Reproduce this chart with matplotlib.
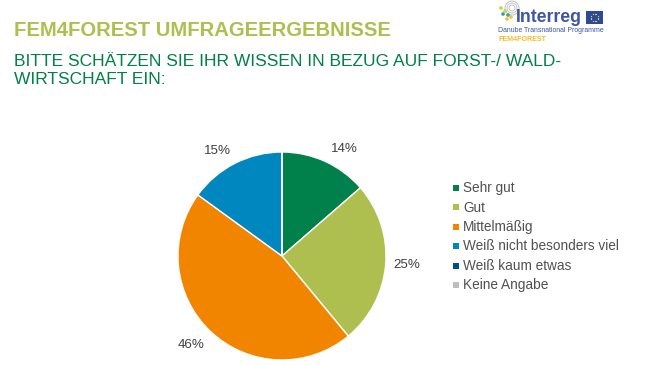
import numpy as np
import matplotlib
matplotlib.use('Agg')
import matplotlib.pyplot as plt
from matplotlib.patches import Rectangle, Circle

plt.rcParams['font.family'] = ['Liberation Sans', 'DejaVu Sans']

W = 656
H = 365

categories = ['Sehr gut', 'Gut', 'Mittelmäßig', 'Weiß nicht besonders viel',
              'Weiß kaum etwas', 'Keine Angabe']
values = [13.6, 25.4, 46, 15, 0, 0]
colors = ['#00804A', '#AEBF4F', '#F28500', '#0087C0', '#004F7C', '#BDBDBD']

title = 'FEM4FOREST UMFRAGEERGEBNISSE'
subtitle = 'BITTE SCHÄTZEN SIE IHR WISSEN IN BEZUG AUF FORST-/ WALD-\nWIRTSCHAFT EIN:'

fig = plt.figure(figsize=(W / 100, H / 100), dpi=100, facecolor='white')

# everything that is not the pie is placed in pixels
bg = fig.add_axes([0, 0, 1, 1])
bg.set_xlim(0, W)
bg.set_ylim(H, 0)
bg.axis('off')

bg.text(14, 30, title, fontsize=14.6, fontweight='bold', color='#AEBF4F', va='center')
bg.text(14, 70.5, subtitle, fontsize=12.5, color='#007F48', va='center', linespacing=1.27)

# logo
for r in [3, 5, 7]:
    bg.add_patch(Circle((512, 8), r, fill=False, edgecolor='#B8B8B8', linewidth=0.6))
bg.scatter([501, 505, 503, 508, 511, 507], [8, 11, 14, 15, 17, 19], s=7,
           color=['#C9D44A', '#C9D44A', '#3FA0A0', '#3FA0A0', '#F2C23A', '#F2C23A'],
           linewidths=0, zorder=3)
bg.text(516, 18, 'Interreg', fontsize=12.7, fontweight='bold', color='#3D55A5', va='center')
bg.add_patch(Rectangle((586, 11), 17, 13, color='#2A4B9B', linewidth=0))
star_ang = np.linspace(0, 2 * np.pi, 12, endpoint=False)
bg.scatter(594.5 + 3.6 * np.cos(star_ang), 17.5 + 3.6 * np.sin(star_ang), s=0.8,
           color='#F7D117', linewidths=0, zorder=3)
bg.text(498.5, 30.5, 'Danube Transnational Programme', fontsize=4.96, color='#3D55A5', va='center')
bg.text(498.5, 39.5, 'FEM4FOREST', fontsize=5.1, fontweight='bold', color='#F7B92B', va='center')

# pie
ax = fig.add_axes([178 / W, (H - 360) / H, 208 / W, 208 / H])
wedges, _ = ax.pie(values, colors=colors, startangle=90, counterclock=False, radius=1,
                   wedgeprops={'edgecolor': 'white', 'linewidth': 1})
ax.set_xlim(-1, 1)
ax.set_ylim(-1, 1)

# percent labels
label_xy = [(344, 149.5), (407, 265.5), (191, 345.5), (217, 150.5)]
for v, (x, y) in zip(values, label_xy):
    bg.text(x, y, f'{v:.0f}%', fontsize=9.6, color='#404040', ha='center', va='center')

# legend
leg_y = [187.5, 207, 226.5, 246, 265.5, 285]
for name, col, y in zip(categories, colors, leg_y):
    bg.add_patch(Rectangle((453, y - 3), 6, 6, color=col, linewidth=0))
    bg.text(463, y + 0.5, name, fontsize=9.8, color='#505050', va='center')

fig.savefig('out.png', dpi=100)
